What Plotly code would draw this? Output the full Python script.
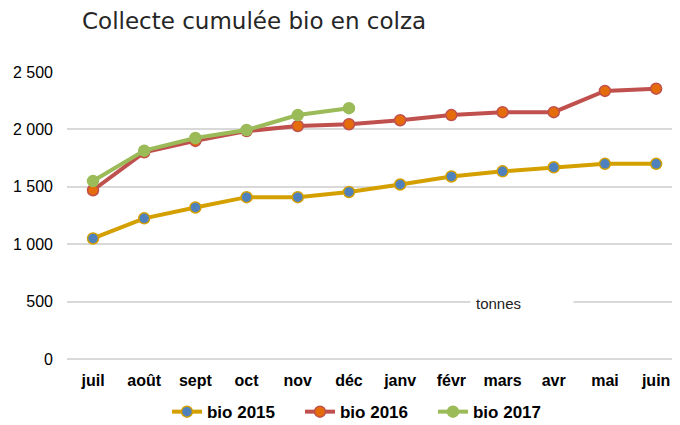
import plotly.graph_objects as go

mois = ["juil", "août", "sept", "oct", "nov", "déc", "janv", "févr", "mars", "avr", "mai", "juin"]
bio_2015 = [1050, 1225, 1320, 1410, 1410, 1455, 1520, 1590, 1635, 1670, 1700, 1700]
bio_2016 = [1470, 1800, 1900, 1985, 2030, 2045, 2080, 2125, 2150, 2150, 2335, 2355]
bio_2017 = [1550, 1815, 1925, 1995, 2125, 2185]

fig = go.Figure()
fig.add_trace(go.Scatter(x=mois, y=bio_2015, name="bio 2015", mode="lines+markers",
                         line=dict(color="#D4A000", width=4),
                         marker=dict(color="#4F81BD", size=11, line=dict(color="#D4A000", width=1.5))))
fig.add_trace(go.Scatter(x=mois, y=bio_2016, name="bio 2016", mode="lines+markers",
                         line=dict(color="#C0504D", width=4),
                         marker=dict(color="#E46C0A", size=11, line=dict(color="#C0504D", width=1.5))))
fig.add_trace(go.Scatter(x=mois[:len(bio_2017)], y=bio_2017, name="bio 2017", mode="lines+markers",
                         line=dict(color="#9BBB59", width=4),
                         marker=dict(color="#9BBB59", size=11, line=dict(color="#9BBB59", width=1.5))))

# étiquette "tonnes" sur fond blanc (masque la grille)
fig.add_annotation(x=8.38, y=0.181, xref="x", yref="paper", text="tonnes", showarrow=False,
                   font=dict(size=15, color="#222"), bgcolor="white", width=92, borderpad=5,
                   align="left", yshift=-11)

# la page ajoute 8px de marge autour du graphique
fig.update_layout(
    width=664, height=417,
    margin=dict(l=59, r=0, t=64, b=66, autoexpand=False),
    paper_bgcolor="white", plot_bgcolor="white",
    separators=", ",
    font=dict(family="Liberation Sans, Arial", color="#000"),
    title=dict(text="Collecte cumulée bio en colza", x=74 / 664, xanchor="left",
               y=1 - 13 / 417, yanchor="middle",
               font=dict(family="DejaVu Sans", size=23, color="#262626")),
    xaxis=dict(type="category", range=[-0.508, 11.31], showgrid=False, ticks="", automargin=False,
               tickfont=dict(size=16, color="#000", weight="bold"), ticklabelstandoff=10),
    yaxis=dict(range=[0, 2500], dtick=500, tickformat=",d", gridcolor="#D9D9D9", gridwidth=1.5,
               zeroline=True, zerolinecolor="#D9D9D9", zerolinewidth=1.5, automargin=False,
               tickfont=dict(size=16, color="#000"), ticklabelstandoff=13),
    legend=dict(orientation="h", x=0.495, xanchor="center", y=-0.185, yanchor="middle",
                font=dict(size=17, weight="bold"), entrywidth=88, entrywidthmode="pixels"),
    showlegend=True,
)
fig.write_html("out.html")
